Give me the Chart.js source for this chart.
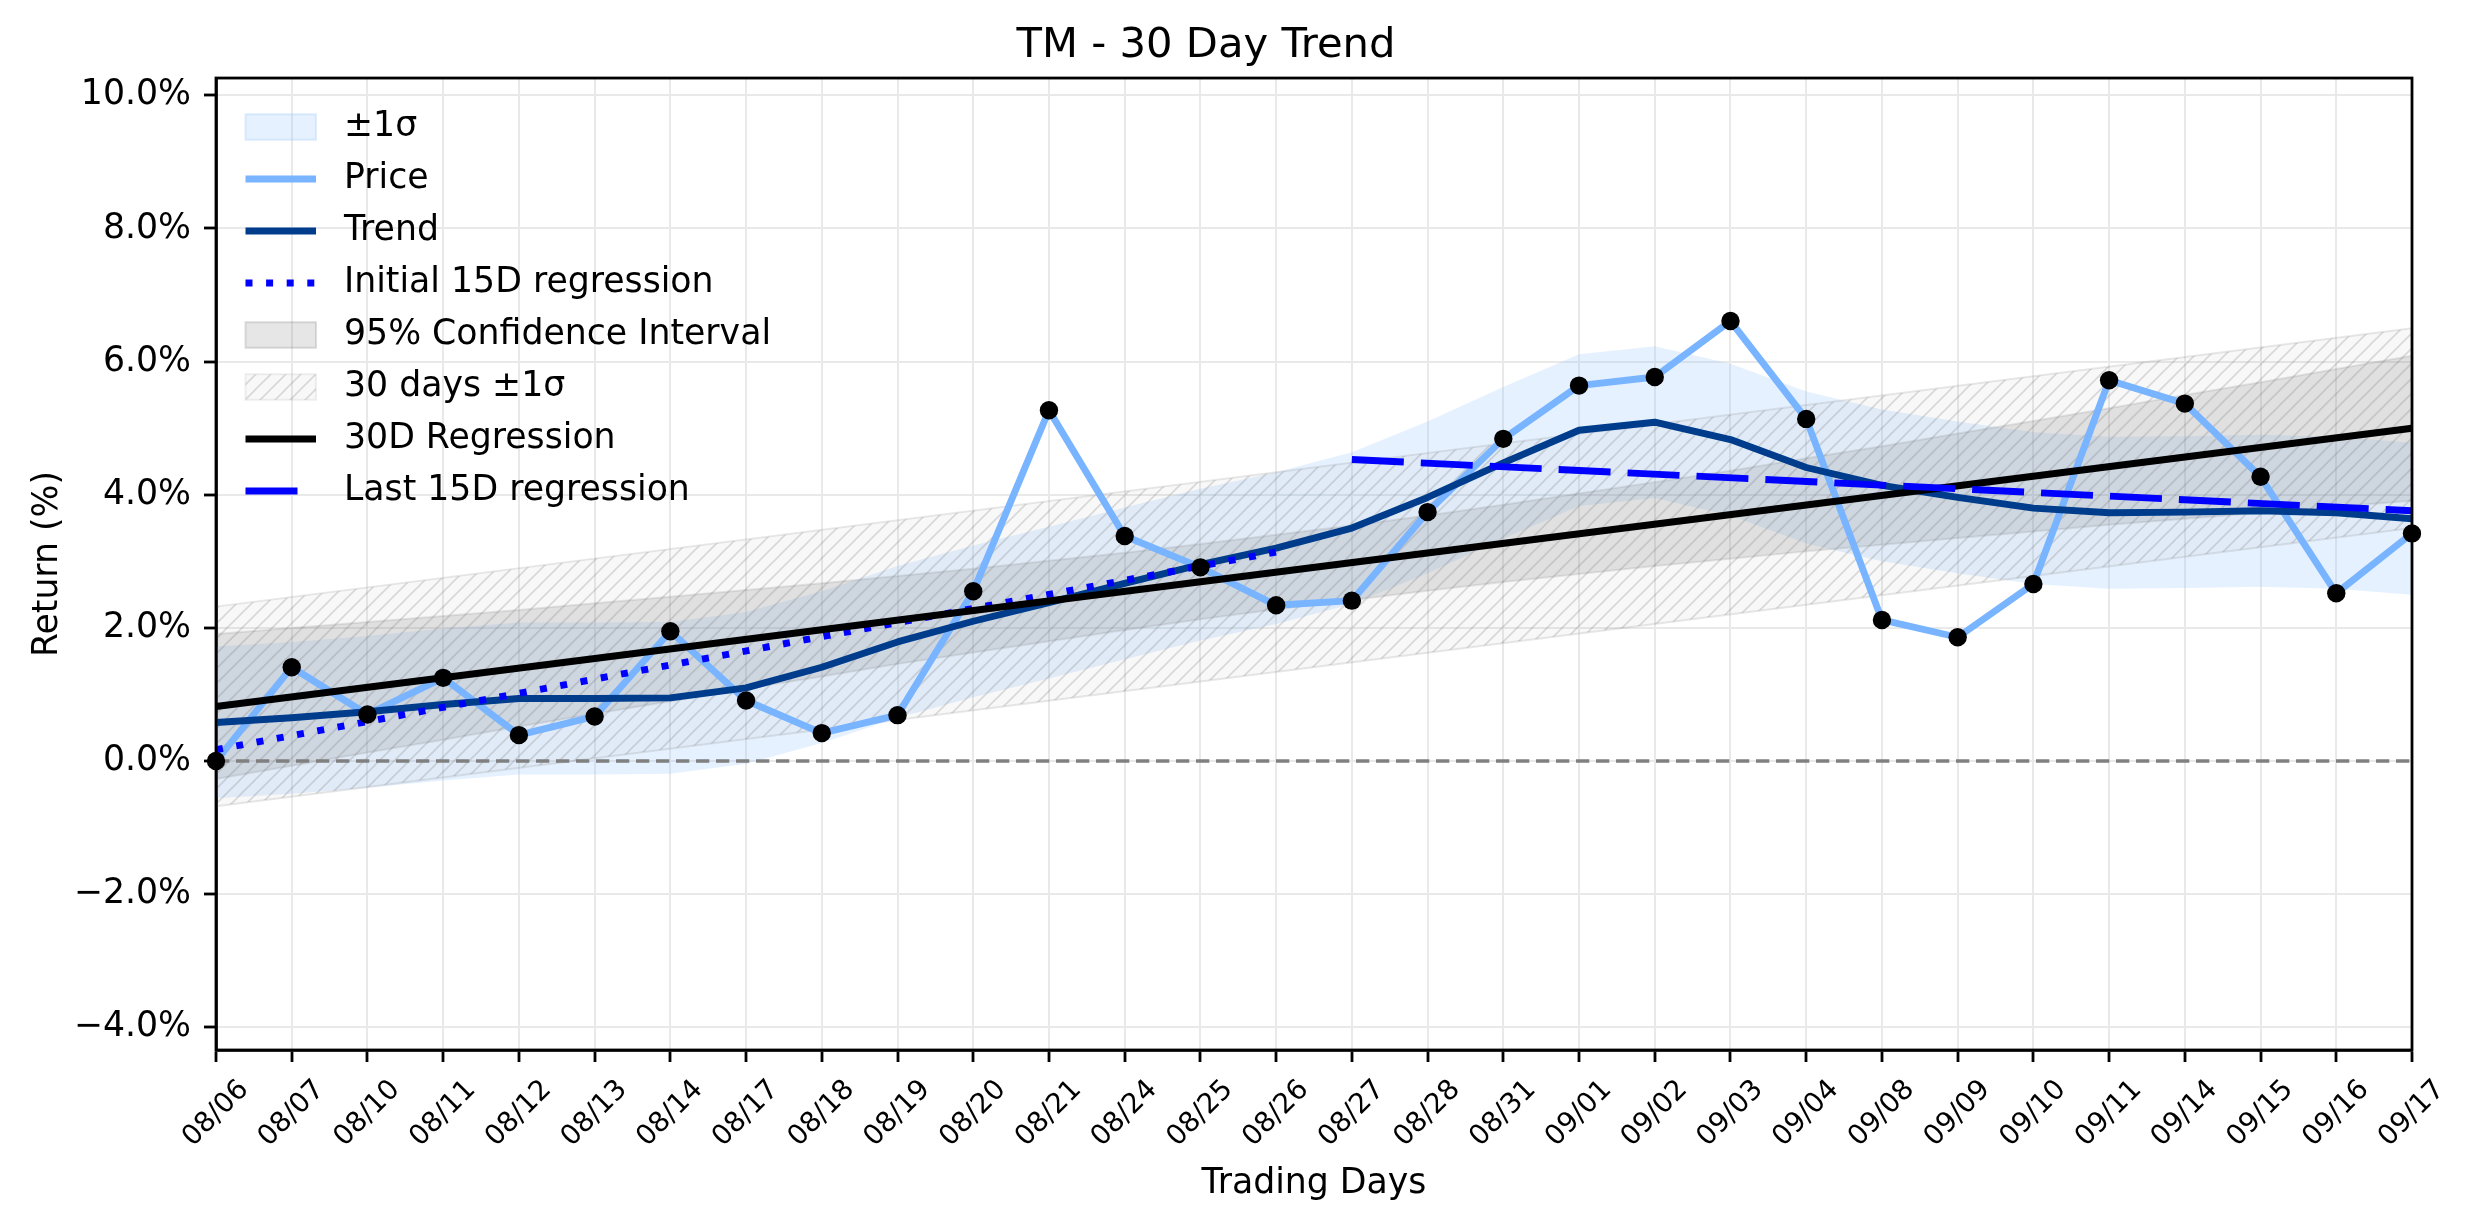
<!DOCTYPE html>
<html><head><meta charset="utf-8">
<script src="https://cdn.jsdelivr.net/npm/chart.js@4.4.1/dist/chart.umd.min.js"></script>
<style>html,body{margin:0;padding:0;background:#fff;}canvas{display:block;}</style>
</head><body>
<canvas id="c" width="2474" height="1224" style="width:2474px;height:1224px"></canvas>
<script>
// ---------- data ----------
const labels = ['08/06','08/07','08/10','08/11','08/12','08/13','08/14','08/17','08/18','08/19','08/20','08/21','08/24','08/25','08/26','08/27','08/28','08/31','09/01','09/02','09/03','09/04','09/08','09/09','09/10','09/11','09/14','09/15','09/16','09/17'];
const price = [0.00,1.41,0.70,1.25,0.39,0.67,1.95,0.91,0.42,0.69,2.55,5.27,3.38,2.91,2.34,2.41,3.74,4.84,5.64,5.77,6.61,5.14,2.12,1.86,2.66,5.72,5.37,4.27,2.52,3.42];
const trend = [0.58,0.65,0.74,0.85,0.94,0.94,0.95,1.10,1.41,1.79,2.10,2.38,2.67,2.95,3.20,3.50,3.96,4.48,4.97,5.09,4.83,4.41,4.14,3.96,3.80,3.73,3.74,3.76,3.73,3.64];
const sigmaUpper = [1.72,1.79,1.88,1.99,2.08,2.08,2.09,2.24,2.55,2.93,3.24,3.52,3.81,4.09,4.34,4.64,5.10,5.62,6.11,6.23,5.97,5.55,5.28,5.10,4.94,4.87,4.88,4.90,4.87,4.78];
const sigmaLower = [-0.56,-0.49,-0.40,-0.29,-0.20,-0.20,-0.19,-0.04,0.27,0.65,0.96,1.24,1.53,1.81,2.06,2.36,2.82,3.34,3.83,3.95,3.69,3.27,3.00,2.82,2.66,2.59,2.60,2.62,2.59,2.50];
const ciUpper = [1.91,2.00,2.09,2.18,2.27,2.37,2.47,2.57,2.67,2.78,2.89,3.01,3.13,3.26,3.40,3.54,3.69,3.85,4.02,4.19,4.36,4.55,4.73,4.92,5.11,5.30,5.50,5.69,5.89,6.09];
const ciLower = [-0.27,-0.07,0.13,0.32,0.52,0.71,0.90,1.09,1.27,1.46,1.63,1.80,1.97,2.13,2.28,2.42,2.56,2.69,2.81,2.93,3.04,3.15,3.25,3.35,3.45,3.55,3.64,3.73,3.82,3.91];
const reg30Ends = [0.82, 5.00];          // 08/06 -> 09/17
const band30UpperEnds = [2.32, 6.50];    // 08/06 -> 09/17
const band30LowerEnds = [-0.68, 3.50];   // 08/06 -> 09/17
const initialRegEnds = [0.17, 3.14];     // 08/06 -> 08/26
const lastRegEnds = [4.53, 3.76];        // 08/27 -> 09/17
const zeroEnds = [0, 0];
const yTicks = [-4, -2, 0, 2, 4, 6, 8, 10];
const yRange = [-4.34, 10.26];

// ---------- styles ----------
const FONT = 'DejaVu Sans';
const LW = 6.9;
const priceColor = '#78b4ff';
const trendColor = '#003c8c';
const sigmaFill = 'rgba(135,190,250,0.22)';
const ciFill = 'rgba(128,128,128,0.2)';
const edgeGray = 'rgba(128,128,128,0.18)';

function makeHatch() {
  const s = 15;
  const c = document.createElement('canvas');
  c.width = s; c.height = s;
  const g = c.getContext('2d');
  g.fillStyle = 'rgba(128,128,128,0.06)';
  g.fillRect(0, 0, s, s);
  g.strokeStyle = 'rgba(100,100,100,0.22)';
  g.lineWidth = 1.6;
  g.beginPath();
  g.moveTo(0, s); g.lineTo(s, 0);
  g.moveTo(-3, 3); g.lineTo(3, -3);
  g.moveTo(s - 3, s + 3); g.lineTo(s + 3, s - 3);
  g.stroke();
  return g.createPattern(c, 'repeat');
}
const canvas = document.getElementById('c');
const ctx = canvas.getContext('2d');
const hatch = makeHatch();

const two = (a, b, v) => [{x: a, y: v[0]}, {x: b, y: v[1]}];
const first = labels[0], last = labels[labels.length - 1];

const base = {pointRadius: 0, pointHoverRadius: 0, tension: 0};

const datasets = [
  Object.assign({}, base, {label: '±1σ', data: sigmaUpper, fill: {target: 1}, backgroundColor: sigmaFill, borderWidth: 0, order: 20, legend: {kind: 'patch', fill: sigmaFill, stroke: 'rgba(135,190,250,0.25)', idx: 0}}),
  Object.assign({}, base, {label: '', data: sigmaLower, fill: false, borderWidth: 0, order: 19}),
  Object.assign({}, base, {label: 'Price', data: price, borderColor: priceColor, borderWidth: LW, borderJoinStyle: 'round', fill: false, order: 13, legend: {kind: 'line', idx: 1}}),
  Object.assign({}, base, {label: 'Trend', data: trend, borderColor: trendColor, borderWidth: LW, borderJoinStyle: 'round', fill: false, order: 12, legend: {kind: 'line', idx: 2}}),
  Object.assign({}, base, {label: 'Initial 15D regression', data: two(first, '08/26', initialRegEnds), borderColor: '#0000ff', borderWidth: LW, borderDash: [7, 13.6], fill: false, order: 11, legend: {kind: 'line', idx: 3}}),
  Object.assign({}, base, {label: '95% Confidence Interval', data: ciUpper, fill: {target: 6}, backgroundColor: ciFill, borderColor: edgeGray, borderWidth: 2, order: 18, legend: {kind: 'patch', fill: ciFill, stroke: 'rgba(128,128,128,0.25)', idx: 4}}),
  Object.assign({}, base, {label: '', data: ciLower, fill: false, borderColor: edgeGray, borderWidth: 2, order: 17}),
  Object.assign({}, base, {label: '30 days ±1σ', data: two(first, last, band30UpperEnds), fill: {target: 8}, backgroundColor: hatch, borderColor: edgeGray, borderWidth: 2, order: 16, legend: {kind: 'hatch', idx: 5}}),
  Object.assign({}, base, {label: '', data: two(first, last, band30LowerEnds), fill: false, borderColor: edgeGray, borderWidth: 2, order: 15}),
  Object.assign({}, base, {label: '30D Regression', data: two(first, last, reg30Ends), borderColor: '#000000', borderWidth: LW, fill: false, order: 10, legend: {kind: 'line', idx: 6}}),
  Object.assign({}, base, {label: 'Last 15D regression', data: two('08/27', last, lastRegEnds), borderColor: '#0000ff', borderWidth: LW, borderDash: [52, 17], fill: false, order: 9, legend: {kind: 'line', idx: 7, len: 52}}),
  Object.assign({}, base, {label: '', data: two(first, last, zeroEnds), borderColor: '#808080', borderWidth: 3.5, borderDash: [13.3, 6.7], fill: false, order: 14}),
  {label: '', data: price, showLine: false, pointRadius: 9.2, pointHoverRadius: 9.2, pointBackgroundColor: '#000', pointBorderWidth: 0, borderWidth: 0, fill: false, order: 1}
];

const framePlugin = {
  id: 'frame',
  afterDatasetsDraw(chart) {
    const a = chart.chartArea, c = chart.ctx;
    c.save();
    c.strokeStyle = '#000'; c.lineWidth = 2.8;
    c.strokeRect(a.left, a.top, a.right - a.left, a.bottom - a.top);
    c.restore();
  }
};

const legendPlugin = {
  id: 'mplLegend',
  afterDraw(chart) {
    const c = chart.ctx;
    const x0 = 245.5, x1 = 316, tx = 344, y0 = 127, dy = 52;
    const items = chart.data.datasets.filter(d => d.legend).sort((a, b) => a.legend.idx - b.legend.idx);
    c.save();
    items.forEach((d, k) => {
      const y = y0 + k * dy;
      const L = d.legend;
      if (L.kind === 'line') {
        c.beginPath();
        c.strokeStyle = d.borderColor; c.lineWidth = d.borderWidth; c.lineCap = 'butt';
        c.setLineDash(L.len ? [] : (d.borderDash || []));
        c.moveTo(x0, y); c.lineTo(L.len ? x0 + L.len : x1, y); c.stroke();
        c.setLineDash([]);
      } else {
        const h = 25.6;
        c.fillStyle = L.kind === 'hatch' ? hatch : L.fill;
        c.fillRect(x0, y - h / 2, x1 - x0, h);
        c.strokeStyle = L.kind === 'hatch' ? 'rgba(128,128,128,0.12)' : L.stroke;
        c.lineWidth = 2;
        c.strokeRect(x0, y - h / 2, x1 - x0, h);
      }
      c.fillStyle = '#000';
      c.font = '34.7px "' + FONT + '"';
      c.textAlign = 'left'; c.textBaseline = 'middle';
      c.fillText(d.label, tx, y);
    });
    c.restore();
  }
};

const fmt = v => (v < 0 ? '\u2212' : '') + Math.abs(v).toFixed(1) + '%';

new Chart(ctx, {
  type: 'line',
  data: {labels: labels, datasets: datasets},
  plugins: [framePlugin, legendPlugin],
  options: {
    responsive: false,
    animation: false,
    devicePixelRatio: 1,
    events: [],
    layout: {padding: {left: 0, right: 62, top: 0, bottom: 0}},
    plugins: {
      legend: {display: false},
      tooltip: {enabled: false},
      filler: {drawTime: 'beforeDatasetDraw'},
      title: {display: true, text: 'TM - 30 Day Trend', color: '#000', font: {family: FONT, size: 41.7, weight: 'normal'}, padding: {top: 21.5, bottom: 6.5}}
    },
    scales: {
      x: {
        type: 'category', offset: false,
        grid: {color: '#e9e9e9', lineWidth: 2, drawTicks: true, tickLength: 12, tickColor: '#000', tickWidth: 2.8},
        border: {display: true, color: '#000', width: 2.8},
        ticks: {autoSkip: false, minRotation: 45, maxRotation: 45, padding: 11.7, labelOffset: 28.3, color: '#000', font: {family: FONT, size: 27.8}},
        title: {display: true, text: 'Trading Days', color: '#000', font: {family: FONT, size: 34.7}, padding: {top: 0, bottom: 19}},
        afterFit: s => { s.height = 174; }
      },
      y: {
        type: 'linear', min: yRange[0], max: yRange[1],
        afterBuildTicks: s => { s.ticks = yTicks.map(v => ({value: v})); },
        grid: {color: '#e9e9e9', lineWidth: 2, drawTicks: true, tickLength: 12, tickColor: '#000', tickWidth: 2.8},
        border: {display: true, color: '#000', width: 2.8},
        ticks: {padding: 13, color: '#000', font: {family: FONT, size: 34.7}, callback: v => fmt(v)},
        title: {display: true, text: 'Return (%)', color: '#000', font: {family: FONT, size: 34.7}, padding: {top: 27, bottom: 0}},
        afterFit: s => { s.width = 216; }
      }
    }
  }
});
</script>
</body></html>
